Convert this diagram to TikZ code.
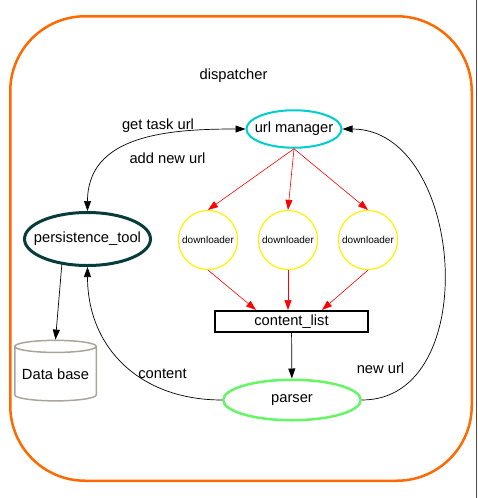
\documentclass[tikz,border=0pt]{standalone}
\usepackage{fontspec}
\setmainfont{Liberation Sans}
\usetikzlibrary{positioning,shapes.geometric,arrows.meta}

\definecolor{dispatchorange}{HTML}{FF6A00}
\definecolor{mgrcyan}{HTML}{00CDCD}
\definecolor{storeteal}{HTML}{083C3C}
\definecolor{parsegreen}{HTML}{66F566}
\definecolor{dbgray}{HTML}{A9A59B}

\tikzset{
	big/.style={font=\fontsize{14.7}{17}\selectfont},
	cluster/.style={draw=dispatchorange, line width=2.5pt, rounded corners=75pt, inner sep=0pt},
	mgr/.style={ellipse, draw=mgrcyan, line width=2pt, inner sep=0pt, minimum width=95pt, minimum height=37.5pt, big},
	store/.style={ellipse, draw=storeteal, line width=3pt, inner sep=0pt, minimum width=126pt, minimum height=53pt, big},
	worker/.style={circle, draw=yellow, line width=1.2pt, inner sep=0pt, minimum size=59pt, font=\fontsize{10}{12}\selectfont},
	buffer/.style={rectangle, draw=black, line width=2pt, inner sep=0pt, minimum width=153pt, minimum height=21pt, big},
	parse/.style={ellipse, draw=parsegreen, line width=2.5pt, inner sep=0pt, minimum width=137.5pt, minimum height=40.5pt, big},
	dbase/.style={cylinder, shape border rotate=90, aspect=0.18, draw=dbgray, line width=1.5pt, inner sep=0pt, minimum width=81.5pt, minimum height=60.5pt, big},
	lbl/.style={anchor=base, inner sep=0pt, big},
	flow/.style={draw=black, line width=0.7pt, -{Triangle[length=10pt,width=7pt]}},
	fetch/.style={draw=red, line width=0.6pt, -{Triangle[length=10pt,width=7pt]}}
}

\begin{document}
\begin{tikzpicture}[x=1pt, y=1pt, on grid]
	\useasboundingbox (0,0) rectangle (478,-498);

	%% DISPATCHER cluster
	\node[cluster, minimum width=461.5pt, minimum height=464.5pt](dispatcher) at (241,-248.5){};
	\node[lbl](dispatcher_label) at (233.5,-79){dispatcher};
	\draw[black!70, line width=0.8pt] (476,0) -- (476,-498);

	%% URL MANAGER and downloaders
	\node[mgr](urlmgr) at (294,-129){\makebox[0pt]{url manager}};
	\node[worker, below=111pt of urlmgr, xshift=-6pt](dl2){downloader};
	\node[worker, left=80pt of dl2](dl1){downloader};
	\node[worker, right=80pt of dl2](dl3){downloader};

	\draw[fetch] (urlmgr.south) -- (dl1.north);
	\draw[fetch] (urlmgr.south) -- (dl2.north);
	\draw[fetch] (urlmgr.south) -- (dl3.north);

	%% CONTENT LIST and parser
	\node[buffer, below=81.5pt of dl2, xshift=3.5pt](clist){content\_list};
	\node[parse, below=78.5pt of clist, xshift=0.5pt](parser){parser};

	\draw[fetch] (dl1.south) -- ([xshift=-35.5pt]clist.north);
	\draw[fetch] (dl2.south) -- ([xshift=-3.5pt]clist.north);
	\draw[fetch] (dl3.south) -- ([xshift=30.5pt]clist.north);
	\draw[flow] (clist) -- (parser);

	%% PERSISTENCE
	\node[store, left=120.5pt of dl1, yshift=1pt](persist){\makebox[0pt]{persistence\_tool}};
	\node[dbase, below=135pt of persist, xshift=-32pt](db){Data base};

	\draw[flow] (persist.225) -- (db.north);

	% get task url / add new url
	\draw[flow, {Triangle[length=10pt,width=7pt]}-{Triangle[length=10pt,width=7pt]}]
		(persist.north) to[out=90, in=180, looseness=1.1] (urlmgr.west);
	\node[lbl](lbl_get) at (158,-129){get task url};
	\node[lbl](lbl_add) at (167.5,-163){add new url};

	% content / new url
	\draw[flow] (parser.west) to[out=180, in=-90, looseness=1.1] (persist.south);
	\draw[flow] (parser.east) to[out=0, in=0, looseness=1.15] (urlmgr.east);
	\node[lbl](lbl_content) at (162.5,-378){content};
	\node[lbl](lbl_newurl) at (380.5,-373){new url};

\end{tikzpicture}
\end{document}
